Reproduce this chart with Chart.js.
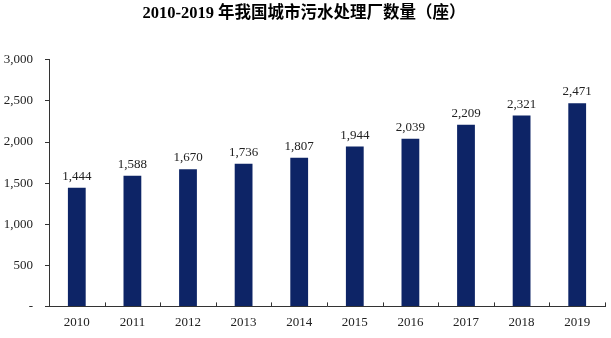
<!DOCTYPE html>
<html>
<head>
<meta charset="utf-8">
<script src="https://cdn.jsdelivr.net/npm/chart.js@4"></script>
<style>
  html, body { margin: 0; padding: 0; background: #fff; }
  #wrap { width: 611px; height: 338px; position: relative; }
</style>
</head>
<body>
<div id="wrap"><canvas id="sewageChart"></canvas></div>
<script>
// Data
const years = ['2010', '2011', '2012', '2013', '2014', '2015', '2016', '2017', '2018', '2019'];
const plantCounts = [1444, 1588, 1670, 1736, 1807, 1944, 2039, 2209, 2321, 2471];
const chartTitle = '2010-2019 年我国城市污水处理厂数量（座）';

const serif = '"Liberation Serif", "Times New Roman", serif';
const barColor = '#0d2466';

function fmt(v) {
    return v === 0 ? '-' : v.toLocaleString('en-US');
}

// value labels above bars + upward category tick marks on x axis
const decorPlugin = {
    id: 'decor',
    afterDatasetsDraw(chart) {
        const ctx = chart.ctx;
        const meta = chart.getDatasetMeta(0);
        ctx.save();
        ctx.fillStyle = '#222';
        ctx.font = '13px ' + serif;
        ctx.textAlign = 'center';
        ctx.textBaseline = 'bottom';
        meta.data.forEach((bar, i) => {
            ctx.fillText(fmt(plantCounts[i]), bar.x, bar.y - 5);
        });

        const xs = chart.scales.x;
        const yBottom = chart.chartArea.bottom;
        ctx.strokeStyle = '#333';
        ctx.lineWidth = 1;
        const step = xs.getPixelForValue(1) - xs.getPixelForValue(0);
        for (let i = 1; i <= years.length; i++) {
            const px = Math.round(xs.getPixelForValue(i) - step / 2) + 0.5;
            ctx.beginPath();
            ctx.moveTo(px, yBottom);
            ctx.lineTo(px, yBottom - 4);
            ctx.stroke();
        }
        ctx.restore();
    }
};

new Chart(document.getElementById('sewageChart'), {
    type: 'bar',
    data: {
        labels: years,
        datasets: [{
            data: plantCounts,
            backgroundColor: barColor,
            barPercentage: 0.64,
            categoryPercentage: 0.5
        }]
    },
    options: {
        responsive: true,
        maintainAspectRatio: false,
        animation: false,
        layout: { padding: { left: 3, right: 6, top: 0, bottom: 0 } },
        plugins: {
            legend: { display: false },
            tooltip: { enabled: false },
            title: {
                display: true,
                text: chartTitle,
                color: '#000',
                font: { family: '"Liberation Serif", "Noto Sans CJK SC", serif', size: 16.5, weight: 'bold' },
                padding: { top: 4, bottom: 36 }
            }
        },
        scales: {
            x: {
                grid: { display: false, drawTicks: false },
                border: { display: true, color: '#333', width: 1 },
                ticks: { color: '#222', font: { family: serif, size: 13 }, padding: 8 }
            },
            y: {
                min: 0,
                max: 3000,
                afterFit: s => { s.width = 46; },
                grid: { drawOnChartArea: false, drawTicks: true, tickLength: 4, color: '#333' },
                border: { display: true, color: '#333', width: 1 },
                ticks: {
                    stepSize: 500,
                    color: '#222',
                    font: { family: serif, size: 13 },
                    padding: 12,
                    callback: v => fmt(v)
                }
            }
        }
    },
    plugins: [decorPlugin]
});
</script>
</body>
</html>
